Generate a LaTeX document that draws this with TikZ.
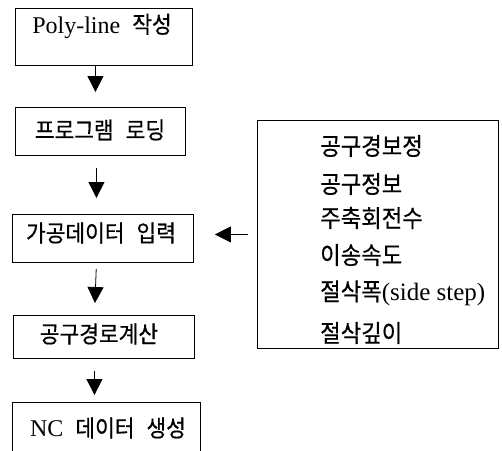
\documentclass[tikz,border=0pt]{standalone}
\usepackage{fontspec}
\setmainfont{Liberation Serif}
\newfontfamily\kr{Noto Sans CJK KR}[Scale=0.97, FakeStretch=0.92, FakeBold=0.5]
\usetikzlibrary{arrows.meta}
\newcommand{\gap}{\hspace{12pt}}
\begin{document}
\begin{tikzpicture}[x=1pt,y=-1pt,
  box/.style={draw, line width=0.9pt, inner sep=0pt, anchor=north west},
  lbl/.style={inner sep=0pt, font=\fontsize{24}{28}\selectfont},
  item/.style={inner sep=0pt, anchor=west, font=\fontsize{25}{29}\selectfont},
  arr/.style={line width=0.8pt, -{Triangle[length=16pt,width=16pt]}}]
\useasboundingbox (0,0) rectangle (502,450);
% left boxes
\node[box, minimum width=177pt, minimum height=57pt] (b1) at (15,8) {};
\node[box, minimum width=170pt, minimum height=48pt] (b2) at (15,107) {};
\node[box, minimum width=181pt, minimum height=48pt] (b3) at (12,214) {};
\node[box, minimum width=181pt, minimum height=43pt] (b4) at (13,315) {};
\node[box, minimum width=188pt, minimum height=70pt] (b5) at (12,402) {};
\node[lbl] (t1) at (102,26) {Poly-line\gap{\kr 작성}};
\node[lbl] (t2) at (100,130) {\kr 프로그램\gap 로딩};
\node[lbl] (t3) at (101,233) {\kr 가공데이터\gap 입력};
\node[lbl] (t4) at (99,334) {\kr 공구경로계산};
\node[lbl] (t5) at (108,428) {NC\gap{\kr 데이터}\gap{\kr 생성}};
% right box
\node[box, minimum width=241pt, minimum height=228pt] (r) at (257,120) {};
\node[item] (r1) at (320,146) {\kr 공구경보정};
\node[item] (r2) at (320,184) {\kr 공구정보};
\node[item] (r3) at (320,218) {\kr 주축회전수};
\node[item] (r4) at (320,255) {\kr 이송속도};
\node[item] (r5) at (320,293) {{\kr 절삭폭}(side step)};
\node[item] (r6) at (320,333) {\kr 절삭깊이};
% arrows
\draw[arr, shorten >=15pt] ([xshift=-8.5pt]b1.south) -- ([xshift=-5pt]b2.north);
\draw[arr, shorten <=12pt, shorten >=16pt] ([xshift=-4pt]b2.south) -- ([xshift=-6.5pt]b3.north);
\draw[arr, shorten <=6pt, shorten >=12pt] ([xshift=-6.5pt]b3.south) -- ([xshift=-9.5pt]b4.north);
\draw[arr, shorten <=12pt, shorten >=7pt] ([xshift=-9.5pt]b4.south) -- ([xshift=-12pt]b5.north);
\draw[arr, shorten <=9pt, shorten >=21pt] (r.west) -- (r.west -| b3.east);
\end{tikzpicture}
\end{document}
